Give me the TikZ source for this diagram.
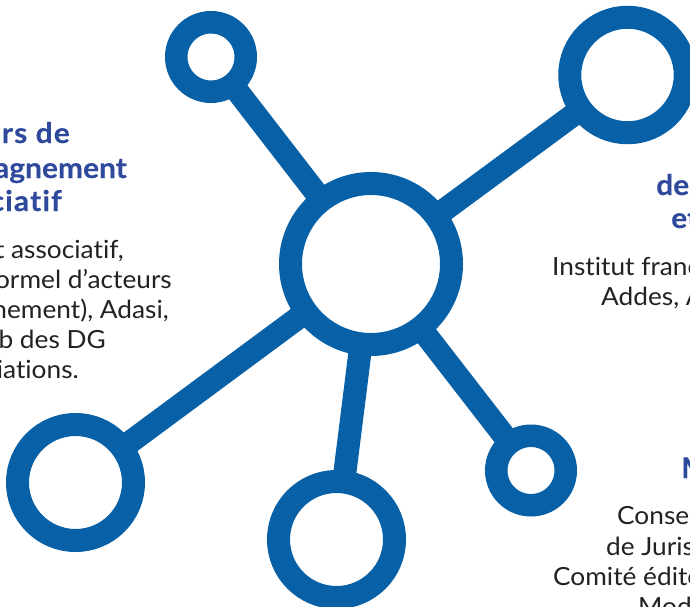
\documentclass[tikz,border=0pt]{standalone}
\usepackage{fontspec}
\setmainfont{Lato}[Ligatures=CommonOff,FakeStretch=1.05]
\definecolor{netblue}{HTML}{0860A6}
\definecolor{headblue}{HTML}{2F4A9C}
\definecolor{bodyink}{HTML}{222222}
\tikzset{
  hub/.style={circle,draw=netblue,fill=white,line width=#1,inner sep=0pt},
  spoke/.style={draw=netblue,line width=23pt,shorten <=-4pt,shorten >=-4pt},
  headl/.style={inner sep=0pt,text=headblue,font=\fontsize{28.5}{28.5}\selectfont\bfseries\addfontfeature{FakeBold=0.3}},
  headw/.style={inner sep=0pt,text=headblue,font=\fontsize{28.5}{28.5}\selectfont\bfseries\addfontfeature{FakeBold=0.3,LetterSpace=4}},
  bodyl/.style={inner sep=0pt,text=bodyink,font=\fontsize{25}{25}\selectfont},
}
\begin{document}
\begin{tikzpicture}[x=1pt,y=-1pt]
\useasboundingbox (0,0) rectangle (690,607);
\clip (0,0) rectangle (690,607);
\fill[white] (0,0) rectangle (690,607);
% hubs
\node[hub=23pt,minimum size=161pt] (c) at (371,264) {};
\node[hub=22.5pt,minimum size=69.5pt] (tl) at (211,57) {};
\node[hub=23pt,minimum size=115.5pt] (tr) at (627.5,75) {};
\node[hub=23pt,minimum size=116pt] (bl) at (75.5,482.5) {};
\node[hub=23pt,minimum size=116pt] (b) at (336.5,539.5) {};
\node[hub=22.5pt,minimum size=69.5pt] (br) at (531,470.5) {};
% spokes
\draw[spoke] (c) -- (tl);
\draw[spoke] (c) -- (tr);
\draw[spoke] (c) -- (bl);
\draw[spoke] (c) -- (b);
\draw[spoke] (c) -- (br);
% left text
\node[headw,anchor=base east] (l1) at (70,143) {urs de};
\node[headl,anchor=base east] (l2) at (127,178) {pagnement};
\node[headw,anchor=base east] (l3) at (62,211) {ociatif};
\node[bodyl,anchor=base east] (l4) at (124,258) {t associatif,};
\node[bodyl,anchor=base east] (l5) at (172,288) {ormel d{\char"27}acteurs};
\node[bodyl,anchor=base east] (l6) at (169,318) {nement), Adasi,};
\node[bodyl,anchor=base east] (l7) at (106,348) {b des DG};
\node[bodyl,anchor=base east] (l8) at (79,378) {iations.};
% right text
\node[headl,anchor=base west] (r1) at (656,195) {de};
\node[headl,anchor=base west] (r2) at (671,228) {et};
\node[bodyl,anchor=base west] (r3) at (552,275) {Institut franç};
\node[bodyl,anchor=base west] (r4) at (601,305) {Addes, A};
% bottom right text
\node[headl,anchor=base west] (s1) at (681,478) {M};
\node[bodyl,anchor=base west] (s2) at (617,524) {Conse};
\node[bodyl,anchor=base west] (s3) at (606,555) {de Juris};
\node[bodyl,anchor=base west] (s4) at (553,585) {Comité édito};
\node[bodyl,anchor=base west] (s5) at (638,615) {Mod};
\end{tikzpicture}
\end{document}
